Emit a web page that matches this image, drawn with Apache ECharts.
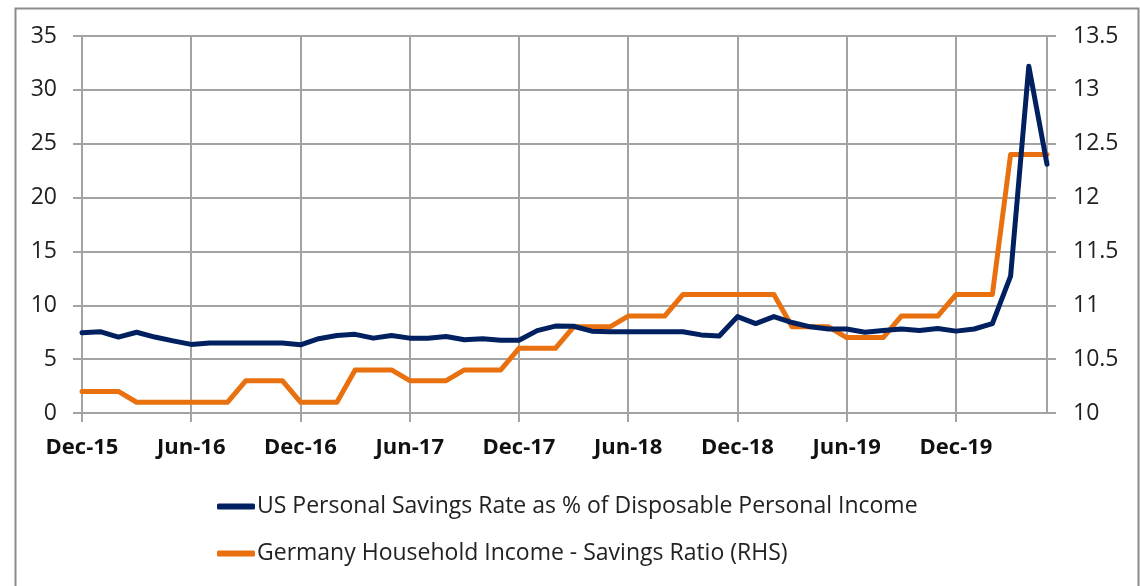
<!DOCTYPE html>
<html>
<head>
<meta charset="utf-8">
<title>US vs Germany savings</title>
<script src="https://cdn.jsdelivr.net/npm/echarts@6/dist/echarts.min.js"></script>
<style>
  html, body { margin: 0; padding: 0; background: #fff; }
  #chart { width: 1140px; height: 586px; }
</style>
</head>
<body>
<div id="chart"></div>
<script>
// monthly, Dec-15 .. May-20
const months = ['Jan', 'Feb', 'Mar', 'Apr', 'May', 'Jun', 'Jul', 'Aug', 'Sep', 'Oct', 'Nov', 'Dec']
const categories = ['Dec-15']
for (let y = 16; y <= 20; y++) {
  for (const m of months) {
    if (y === 20 && m === 'Jun') break
    categories.push(m + '-' + y)
  }
}

const usSavings = [
  7.45, 7.55, 7.05, 7.5, 7.05, 6.7, 6.37, 6.5, 6.5, 6.5, 6.5, 6.5,
  6.33, 6.9, 7.2, 7.3, 6.95, 7.2, 6.95, 6.95, 7.1, 6.8, 6.9, 6.75,
  6.75, 7.65, 8.07, 8.05, 7.6, 7.55, 7.55, 7.55, 7.55, 7.55, 7.25, 7.15,
  8.95, 8.3, 8.95, 8.4, 8.0, 7.8, 7.8, 7.5, 7.65, 7.8, 7.65, 7.85,
  7.6, 7.8, 8.3, 12.7, 32.2, 23.1,
]

// quarterly figure, repeated for each month of the quarter
const germanySavings = [
  10.2, 10.2, 10.2, 10.1, 10.1, 10.1, 10.1, 10.1, 10.1, 10.3, 10.3, 10.3,
  10.1, 10.1, 10.1, 10.4, 10.4, 10.4, 10.3, 10.3, 10.3, 10.4, 10.4, 10.4,
  10.6, 10.6, 10.6, 10.8, 10.8, 10.8, 10.9, 10.9, 10.9, 11.1, 11.1, 11.1,
  11.1, 11.1, 11.1, 10.8, 10.8, 10.8, 10.7, 10.7, 10.7, 10.9, 10.9, 10.9,
  11.1, 11.1, 11.1, 12.4, 12.4, 12.4,
]

const usName = 'US Personal Savings Rate as % of Disposable Personal Income'
const deName = 'Germany Household Income - Savings Ratio (RHS)'

const font = '"Open Sans", "Noto Sans", sans-serif'
const gridColor = '#a3a3a3'

const chart = echarts.init(document.getElementById('chart'))
chart.setOption({
  animation: false,
  textStyle: { fontFamily: font },
  graphic: [
    {
      type: 'rect',
      left: 13, top: 6,
      shape: { width: 1123, height: 620 },
      style: { fill: 'none', stroke: '#8c8c8c', lineWidth: 2 },
      silent: true,
    },
  ],
  grid: { left: 82, right: 93, top: 36, bottom: 173 },
  legend: {
    orient: 'vertical',
    left: 212,
    top: 490,
    itemWidth: 38,
    itemHeight: 6,
    itemGap: 24,
    icon: 'roundRect',
    textStyle: { fontSize: 23, color: '#222', fontFamily: font, padding: [0, 0, 0, -3] },
    data: [usName, deName],
  },
  xAxis: {
    type: 'category',
    boundaryGap: false,
    data: categories,
    axisLine: { lineStyle: { color: gridColor, width: 2 } },
    axisTick: { show: true, interval: 5, length: 9, lineStyle: { color: gridColor, width: 2 } },
    axisLabel: { interval: 5, margin: 24, fontSize: 22, fontWeight: 'bold', color: '#111', fontFamily: font },
    splitLine: { show: true, interval: 5, lineStyle: { color: gridColor, width: 2 } },
  },
  yAxis: [
    {
      type: 'value',
      min: 0, max: 35, interval: 5,
      axisLine: { show: true, lineStyle: { color: gridColor, width: 2 } },
      axisTick: { show: true, length: 9, lineStyle: { color: gridColor, width: 2 } },
      axisLabel: { margin: 25, fontSize: 23, color: '#222', fontFamily: font },
      splitLine: { show: true, lineStyle: { color: gridColor, width: 2 } },
    },
    {
      type: 'value',
      min: 10, max: 13.5, interval: 0.5,
      axisLine: { show: true, lineStyle: { color: gridColor, width: 2 } },
      axisTick: { show: true, length: 9, lineStyle: { color: gridColor, width: 2 } },
      axisLabel: { margin: 26, fontSize: 23, color: '#222', fontFamily: font },
      splitLine: { show: false },
    },
  ],
  series: [
    {
      name: usName,
      type: 'line',
      yAxisIndex: 0,
      data: usSavings,
      showSymbol: false,
      z: 3,
      lineStyle: { color: '#002060', width: 5, cap: 'round', join: 'round' },
      itemStyle: { color: '#002060' },
    },
    {
      name: deName,
      type: 'line',
      yAxisIndex: 1,
      data: germanySavings,
      showSymbol: false,
      z: 2,
      lineStyle: { color: '#e8700f', width: 5, cap: 'round', join: 'round' },
      itemStyle: { color: '#e8700f' },
    },
  ],
})
</script>
</body>
</html>
